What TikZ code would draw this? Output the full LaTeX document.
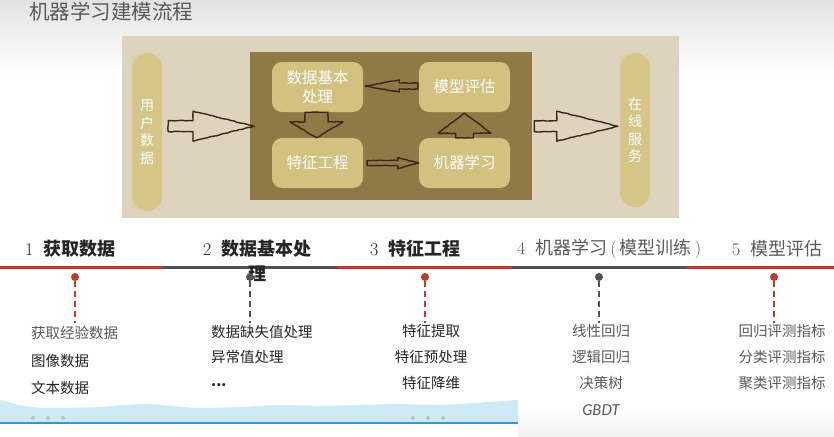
\documentclass[tikz,border=0pt]{standalone}
\usepackage{fontspec}
\newfontfamily\cjk{Noto Sans CJK SC}
\newfontfamily\gbdtfont{Lato}
\usetikzlibrary{calc,decorations.pathmorphing}
\definecolor{paper}{HTML}{DED3BD}
\definecolor{olive}{HTML}{8F7A45}
\definecolor{boxc}{HTML}{D3C17F}
\definecolor{pillc}{HTML}{D5C688}
\definecolor{arrc}{HTML}{3A2618}
\definecolor{tred}{HTML}{BE3A2C}
\definecolor{tgray}{HTML}{4D5455}
\definecolor{wave}{HTML}{CDEAF6}
\definecolor{waveline}{HTML}{2A9AD8}
\definecolor{txtgray}{HTML}{5A5A5A}
\tikzset{
  blkline/.style={draw=arrc, line width=1.4pt, line join=round,
    decorate, decoration={random steps, segment length=3pt, amplitude=0.35pt}},
  rbox/.style={fill=boxc, rounded corners=10pt, minimum width=91pt, minimum height=50pt,
    text=white, font=\cjk\fontsize{15.5}{19}\selectfont, align=center, inner sep=0pt},
  pill/.style={fill=pillc, rounded corners=15pt, minimum width=30pt, text=white,
    font=\cjk\fontsize{14}{17.5}\selectfont, align=center, inner sep=0pt},
  hd/.style={font=\cjk\bfseries\fontsize{18}{25}\selectfont, text=black!85, inner sep=0pt, anchor=west},
  hdl/.style={font=\cjk\fontsize{18}{25}\selectfont, text=txtgray, inner sep=0pt, anchor=west},
  dotc/.style={circle, inner sep=0pt, minimum size=8pt},
  dsh/.style={line width=1.5pt, dash pattern=on 6pt off 4pt},
  item/.style={font=\cjk\fontsize{14.5}{17}\selectfont, inner sep=0pt, text=black!85},
  itemg/.style={item, text=txtgray},
  ring/.style={draw=gray!80, line width=0.5pt}
}
\newcommand\blkarrow[5]{%
  \coordinate (bt) at (#2);
  \coordinate (bh) at ($(#2)!#5!(#1)$);
  \draw[blkline] ($(#1)!#3!90:(bt)$) -- ($(bh)!#3!90:(bt)$) -- ($(bh)!#4!90:(bt)$) -- (bt)
    -- ($(bh)!#4!-90:(bt)$) -- ($(bh)!#3!-90:(bt)$) -- ($(#1)!#3!-90:(bt)$) -- cycle;}
\begin{document}
\begin{tikzpicture}[x=1pt,y=-1pt]
\pgfmathsetseed{7}
\useasboundingbox (0,0) rectangle (834,436);
\fill[white] (0,0) rectangle (834,436);
\shade[top color=gray!22, bottom color=white] (0,0) rectangle (834,75);
\shade[top color=white, bottom color=gray!10] (518,405) rectangle (834,436);

% title
\node[anchor=west, inner sep=0pt, font=\cjk\fontsize{20.5}{24}\selectfont, text=txtgray] (title) at (29,12) {机器学习建模流程};

% photo
\node[fill=paper, anchor=north west, minimum width=557pt, minimum height=182pt, inner sep=0pt] (photo) at (122,36) {};
\node[fill=olive, anchor=north west, minimum width=282pt, minimum height=148pt, inner sep=0pt] (inner) at (250,52) {};
\node[pill, minimum height=158pt] (userp) at (147,132) {用\\户\\数\\据};
\node[pill, minimum height=154pt] (servp) at (635,130) {在\\线\\服\\务};
\node[rbox] (b1) at (317.5,87) {数据基本\\处理};
\node[rbox] (b2) at (464.5,87) {模型评估};
\node[rbox] (b3) at (317.5,163) {特征工程};
\node[rbox] (b4) at (464.5,163) {机器学习};

% arrows
\coordinate (a1s) at ($(userp.east|-inner.west)+(6,0)$);
\coordinate (a1t) at ($(inner.west)+(4,0)$);
\blkarrow{a1s}{a1t}{5.5pt}{15pt}{61pt}
\coordinate (a2s) at ($(inner.east)+(2,0)$);
\coordinate (a2t) at ($(servp.west|-inner.east)+(-2,0)$);
\blkarrow{a2s}{a2t}{5.5pt}{15pt}{61pt}
\coordinate (a3s) at ($(b1.south)+(-1,0)$);
\coordinate (a3t) at ($(b3.north)+(-1,0)$);
\blkarrow{a3s}{a3t}{11.5pt}{26.5pt}{16pt}
\coordinate (a4s) at (b4.north);
\coordinate (a4t) at ($(b2.south)+(0,1)$);
\blkarrow{a4s}{a4t}{9pt}{26.5pt}{20pt}
\coordinate (a5s) at ($(b2.west)+(-1,-1)$);
\coordinate (a5t) at ($(b1.east)+(2,-1)$);
\blkarrow{a5s}{a5t}{3pt}{6pt}{34pt}
\coordinate (a6s) at ($(b3.east)+(4,0)$);
\coordinate (a6t) at (b4.west);
\blkarrow{a6s}{a6t}{2.5pt}{5.5pt}{21pt}

% bottom wave
\fill[wave] plot[smooth] coordinates {(0,400) (15,404) (30,407) (60,408) (100,407) (125,405) (150,404) (170,406) (200,408) (240,407) (280,405) (320,406) (360,405) (400,404) (430,405) (460,404) (490,402) (518,400)}
  -- (518,423) -- (0,423) -- cycle;
\draw[waveline, line width=1.5pt] (0,423) -- (518,423);
\foreach \cx in {33,48,63,413,428,443} \draw[ring] (\cx,418) circle (1.6pt);

% timeline
\draw[tred, line width=3pt] (0,267) -- (163,267);
\draw[tgray, line width=3pt] (163,267) -- (337,267);
\draw[tred, line width=3pt] (337,267) -- (512,267);
\draw[tgray, line width=3pt] (512,267) -- (687,267);
\draw[tred, line width=3pt] (687,267) -- (834,267);

% headings
\node[hd] (h1) at (25,249) {{\rmfamily\mdseries 1}\hspace{10pt}获取数据};
\node[hd, align=center, anchor=north west] (h2) at (203,240) {{\rmfamily\mdseries 2}\hspace{10pt}数据基本处\\理};
\node[hd] (h3) at (370,249) {{\rmfamily\mdseries 3}\hspace{10pt}特征工程};
\node[hdl] (h4) at (517,249) {{\rmfamily 4}\hspace{10pt}机器学习{\rmfamily\,(\,}模型训练{\rmfamily\,)}};
\node[hdl] (h5) at (732,249) {{\rmfamily 5}\hspace{10pt}模型评估};

% dots and dashed leaders
\node[dotc, fill=tred] (d1) at (75,277) {};
\node[dotc, fill=tgray] (d2) at (250,277) {};
\node[dotc, fill=tred] (d3) at (425,277) {};
\node[dotc, fill=tgray] (d4) at (599,277) {};
\node[dotc, fill=tred] (d5) at (774,277) {};
\coordinate (e1) at (75,323);
\coordinate (e2) at (250,323);
\coordinate (e3) at (425,323);
\coordinate (e4) at (599,323);
\coordinate (e5) at (774,323);
\draw[dsh, tred] (d1) -- (e1);
\draw[dsh, tgray] (d2) -- (e2);
\draw[dsh, tred] (d3) -- (e3);
\draw[dsh, tgray] (d4) -- (e4);
\draw[dsh, tred] (d5) -- (e5);

% items
\node[itemg, anchor=west] (c1a) at (31,333) {获取经验数据};
\node[item, anchor=west] (c1b) at (31,361) {图像数据};
\node[item, anchor=west] (c1c) at (31,388) {文本数据};
\node[item, anchor=west] (c2a) at (211,332) {数据缺失值处理};
\node[item, anchor=west] (c2b) at (211,357) {异常值处理};
\node[item, anchor=base west, font=\cjk\bfseries\fontsize{14.5}{17}\selectfont] (c2c) at (211,386) {...};
\node[item] (c3a) at (431,331) {特征提取};
\node[item] (c3b) at (431,357) {特征预处理};
\node[item] (c3c) at (431,383) {特征降维};
\node[itemg] (c4a) at (601,331) {线性回归};
\node[itemg] (c4b) at (601,357) {逻辑回归};
\node[itemg] (c4c) at (601,383) {决策树};
\node[itemg, font=\gbdtfont\itshape\fontsize{15}{18}\selectfont] (c4d) at (601,410) {GBDT};
\node[itemg] (c5a) at (782,331) {回归评测指标};
\node[itemg] (c5b) at (782,357) {分类评测指标};
\node[itemg] (c5c) at (782,383) {聚类评测指标};
\end{tikzpicture}
\end{document}
